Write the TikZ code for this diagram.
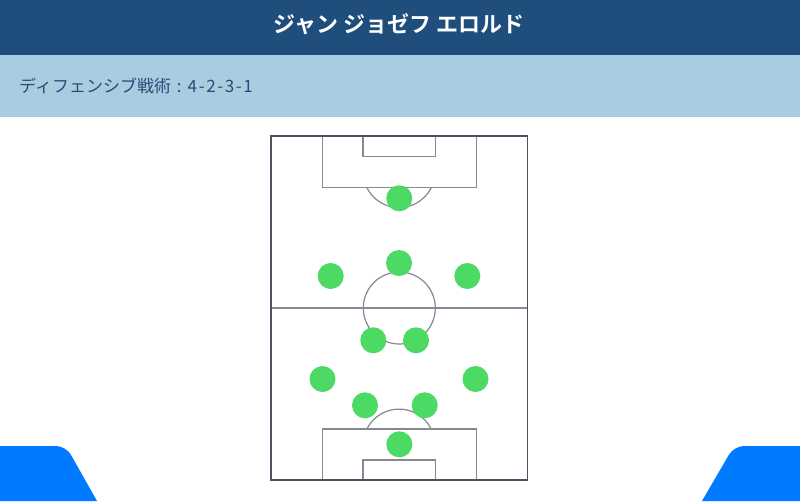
\documentclass[tikz,border=0pt]{standalone}
\usepackage{fontspec}
\newfontfamily\jpfont{Noto Sans CJK JP}
\newfontfamily\jpbold{Noto Sans CJK JP Bold}
\definecolor{hdrblue}{RGB}{31,78,125}
\definecolor{subblue}{RGB}{168,204,224}
\definecolor{subtext}{RGB}{47,72,120}
\definecolor{dotgreen}{RGB}{76,217,100}
\definecolor{cornerblue}{RGB}{0,122,255}
\definecolor{outerline}{RGB}{80,80,98}
\definecolor{innerline}{RGB}{135,135,150}
\newcommand{\dk}{\kern1.6pt}
\begin{document}
\begin{tikzpicture}[x=1pt,y=-1pt,
  player/.style={circle,fill=dotgreen,minimum size=26pt,inner sep=0pt},
  pitchline/.style={draw=innerline,line width=1.2pt},
  outline/.style={draw=outerline,line width=1.8pt}]
\useasboundingbox (0,0) rectangle (800,501);
\fill[white] (0,0) rectangle (800,501);
% header bands
\fill[hdrblue] (0,0) rectangle (800,55);
\fill[subblue] (0,55) rectangle (800,117);
\node[text=white,font=\jpbold\fontsize{22}{24}\selectfont] (title) at (399,24) {ジャン ジョゼフ エロルド};
\node[anchor=west,text=subtext,font=\jpfont\fontsize{17}{20}\selectfont,inner sep=0pt] (sub) at (19,86) {ディフェンシブ戦術\kern6pt:\kern6pt4\dk-\dk2\dk-\dk3\dk-\dk1};
% corner shapes
\fill[cornerblue] (0,501) -- (0,446) [rounded corners=10pt] -- (66,446) [sharp corners] -- (97,501) -- cycle;
\fill[cornerblue] (800,501) -- (800,446) [rounded corners=10pt] -- (734,446) [sharp corners] -- (702,501) -- cycle;
% pitch
\draw[pitchline] (271,308) -- (527,308);
\draw[pitchline] (399.3,308) circle (36);
\draw[pitchline] (322.3,136) rectangle (476.7,187.7);
\draw[pitchline] (363,136) rectangle (435.3,156.7);
\draw[pitchline] (366.9,187.7) arc[start angle=153.4,end angle=26.6,radius=36];
\draw[pitchline] (322.3,480.3) rectangle (476.7,429);
\draw[pitchline] (363,480.3) rectangle (435.3,460);
\draw[pitchline] (366.9,429) arc[start angle=-153.4,end angle=-26.6,radius=36];
\draw[outline] (271,136) rectangle (527.5,480.3);
% players
\node[player] (gk1) at (399.3,198.3) {};
\node[player] (p2) at (399,263) {};
\node[player] (p3) at (330.7,276) {};
\node[player] (p4) at (467.3,276) {};
\node[player] (p5) at (373.3,340.3) {};
\node[player] (p6) at (416,340.3) {};
\node[player] (p7) at (322.5,379) {};
\node[player] (p8) at (475.5,379) {};
\node[player] (p9) at (365,405.3) {};
\node[player] (p10) at (424.7,405.3) {};
\node[player] (gk2) at (399.3,444.3) {};
\end{tikzpicture}
\end{document}
